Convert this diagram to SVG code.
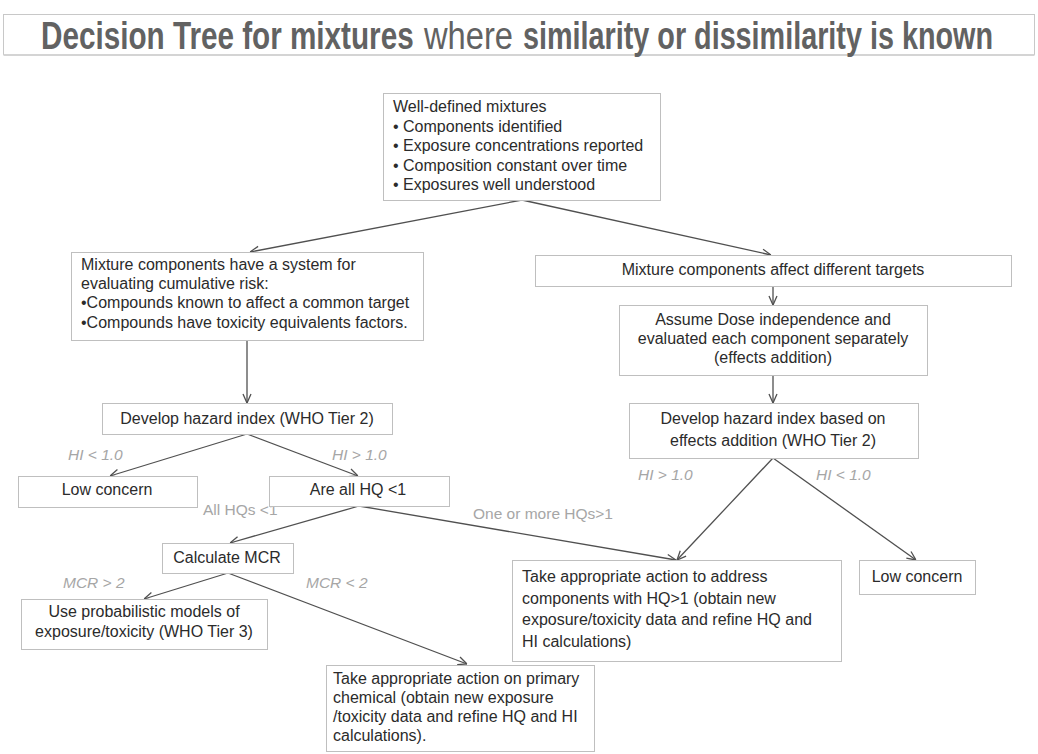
<svg xmlns="http://www.w3.org/2000/svg" width="1038" height="754" viewBox="0 0 1038 754">
  <style>
    .box { fill: #ffffff; stroke: #bfbfbf; stroke-width: 1; }
    .txt { font-family: "Liberation Sans", Arial, sans-serif; font-size: 16px; fill: #2b2b2b; }
    .mid { text-anchor: middle; }
    .lbl { font-family: "Liberation Sans", Arial, sans-serif; font-size: 15.5px; fill: #a6a6a6; }
    .it { font-style: italic; }
    .edge { fill: none; stroke: #505050; stroke-width: 1.3; marker-end: url(#arrow); }
    .title { font-family: "Liberation Sans", Arial, sans-serif; font-size: 38px; font-weight: bold; fill: #626262; }
    .title-light { font-weight: normal; }
  </style>
  <defs>
    <marker id="arrow" viewBox="0 0 10 10" refX="10" refY="5" markerWidth="10" markerHeight="10" markerUnits="userSpaceOnUse" orient="auto">
      <path d="M1,1 L10,5 L1,9" fill="none" stroke="#505050" stroke-width="1.3"/>
    </marker>
  </defs>

  <rect width="1038" height="754" fill="#ffffff"/>

  <!-- heading: condensed by horizontal scaling -->
  <g id="title">
    <rect x="3.5" y="14.5" width="1031" height="40" fill="#ffffff" stroke="#c8c8c8" stroke-width="1"/>
    <line x1="3.5" y1="55" x2="1034.5" y2="55" stroke="#d4d4d4" stroke-width="2"/>
    <text class="title" transform="translate(41 49) scale(0.778 1)" x="0" y="0" textLength="479" lengthAdjust="spacingAndGlyphs">Decision Tree for mixtures</text>
    <text class="title title-light" transform="translate(424 49) scale(0.86 1)" x="0" y="0" textLength="103.5" lengthAdjust="spacingAndGlyphs">where</text>
    <text class="title" transform="translate(523 49) scale(0.739 1)" x="0" y="0" textLength="636" lengthAdjust="spacingAndGlyphs">similarity or dissimilarity is known</text>
  </g>

  <!-- connectors -->
  <g id="connectors">
    <line class="edge" x1="522" y1="200" x2="250" y2="252"/>
    <line class="edge" x1="522" y1="200" x2="771" y2="255"/>
    <line class="edge" x1="247" y1="340" x2="247" y2="403"/>
    <line class="edge" x1="773" y1="286" x2="773" y2="305"/>
    <line class="edge" x1="773" y1="375" x2="773" y2="403"/>
    <line class="edge" x1="247" y1="434" x2="110" y2="476"/>
    <line class="edge" x1="247" y1="434" x2="358" y2="476"/>
    <line class="edge" x1="359" y1="506" x2="230" y2="543"/>
    <line class="edge" x1="359" y1="506" x2="676" y2="560"/>
    <line class="edge" x1="773" y1="458" x2="677" y2="560"/>
    <line class="edge" x1="773" y1="458" x2="916" y2="560"/>
    <line class="edge" x1="228" y1="573" x2="144" y2="599"/>
    <line class="edge" x1="228" y1="573" x2="467" y2="664"/>
  </g>

  <!-- branch labels -->
  <g id="labels">
    <text class="lbl it" x="68" y="460">HI &lt; 1.0</text>
    <text class="lbl it" x="332" y="460">HI &gt; 1.0</text>
    <text class="lbl" x="203" y="515">All HQs &lt;1</text>
    <text class="lbl" x="473" y="519">One or more HQs&gt;1</text>
    <text class="lbl it" x="638" y="480">HI &gt; 1.0</text>
    <text class="lbl it" x="816" y="480">HI &lt; 1.0</text>
    <text class="lbl it" x="63" y="588">MCR &gt; 2</text>
    <text class="lbl it" x="306" y="588">MCR &lt; 2</text>
  </g>

  <g id="well-defined">
    <rect class="box" x="383.5" y="93.5" width="277" height="107"/>
    <text class="txt" x="393" y="112">Well-defined mixtures</text>
    <text class="txt" x="393" y="132">• Components identified</text>
    <text class="txt" x="393" y="151">• Exposure concentrations reported</text>
    <text class="txt" x="393" y="171">• Composition constant over time</text>
    <text class="txt" x="393" y="190">• Exposures well understood</text>
  </g>

  <g id="common-system">
    <rect class="box" x="71.5" y="252.5" width="352" height="88"/>
    <text class="txt" x="81" y="270">Mixture components have a system for</text>
    <text class="txt" x="81" y="289">evaluating cumulative risk:</text>
    <text class="txt" x="81" y="308">•Compounds known to affect a common target</text>
    <text class="txt" x="81" y="328">•Compounds have toxicity equivalents factors.</text>
  </g>

  <g id="different-targets">
    <rect class="box" x="535.5" y="255.5" width="476" height="31"/>
    <text class="txt mid" x="773" y="275">Mixture components affect different targets</text>
  </g>

  <g id="dose-independence">
    <rect class="box" x="619.5" y="305.5" width="308" height="70"/>
    <text class="txt mid" x="773" y="325">Assume Dose independence  and</text>
    <text class="txt mid" x="773" y="344">evaluated each component separately</text>
    <text class="txt mid" x="773" y="363">(effects addition)</text>
  </g>

  <g id="hazard-index">
    <rect class="box" x="102.5" y="403.5" width="290" height="31"/>
    <text class="txt mid" x="247" y="424">Develop hazard  index (WHO Tier 2)</text>
  </g>

  <g id="hazard-index-effects">
    <rect class="box" x="629.5" y="403.5" width="289" height="55"/>
    <text class="txt mid" x="773" y="424">Develop hazard  index based  on</text>
    <text class="txt mid" x="773" y="446">effects addition (WHO Tier 2)</text>
  </g>

  <g id="low-concern-left">
    <rect class="box" x="18.5" y="476.5" width="179" height="31"/>
    <text class="txt mid" x="107" y="495">Low concern</text>
  </g>

  <g id="all-hq">
    <rect class="box" x="269.5" y="476.5" width="180" height="30"/>
    <text class="txt mid" x="358" y="495">Are all HQ &lt;1</text>
  </g>

  <g id="calculate-mcr">
    <rect class="box" x="162.5" y="543.5" width="131" height="30"/>
    <text class="txt mid" x="227" y="563">Calculate MCR</text>
  </g>

  <g id="address-components">
    <rect class="box" x="512.5" y="560.5" width="329" height="101"/>
    <text class="txt" x="522" y="582">Take appropriate  action to address</text>
    <text class="txt" x="522" y="604">components with HQ&gt;1 (obtain new</text>
    <text class="txt" x="522" y="625">exposure/toxicity data and refine HQ and</text>
    <text class="txt" x="522" y="647">HI calculations)</text>
  </g>

  <g id="low-concern-right">
    <rect class="box" x="859.5" y="560.5" width="116" height="34"/>
    <text class="txt mid" x="917" y="582">Low concern</text>
  </g>

  <g id="probabilistic">
    <rect class="box" x="21.5" y="599.5" width="246" height="50"/>
    <text class="txt mid" x="144" y="617">Use probabilistic  models of</text>
    <text class="txt mid" x="144" y="637">exposure/toxicity (WHO Tier 3)</text>
  </g>

  <g id="primary-chemical">
    <rect class="box" x="326.5" y="665.5" width="268" height="86"/>
    <text class="txt" x="333" y="684">Take appropriate  action on primary</text>
    <text class="txt" x="333" y="703">chemical (obtain new exposure</text>
    <text class="txt" x="333" y="722">/toxicity data and refine HQ and HI</text>
    <text class="txt" x="333" y="741">calculations).</text>
  </g>
</svg>
